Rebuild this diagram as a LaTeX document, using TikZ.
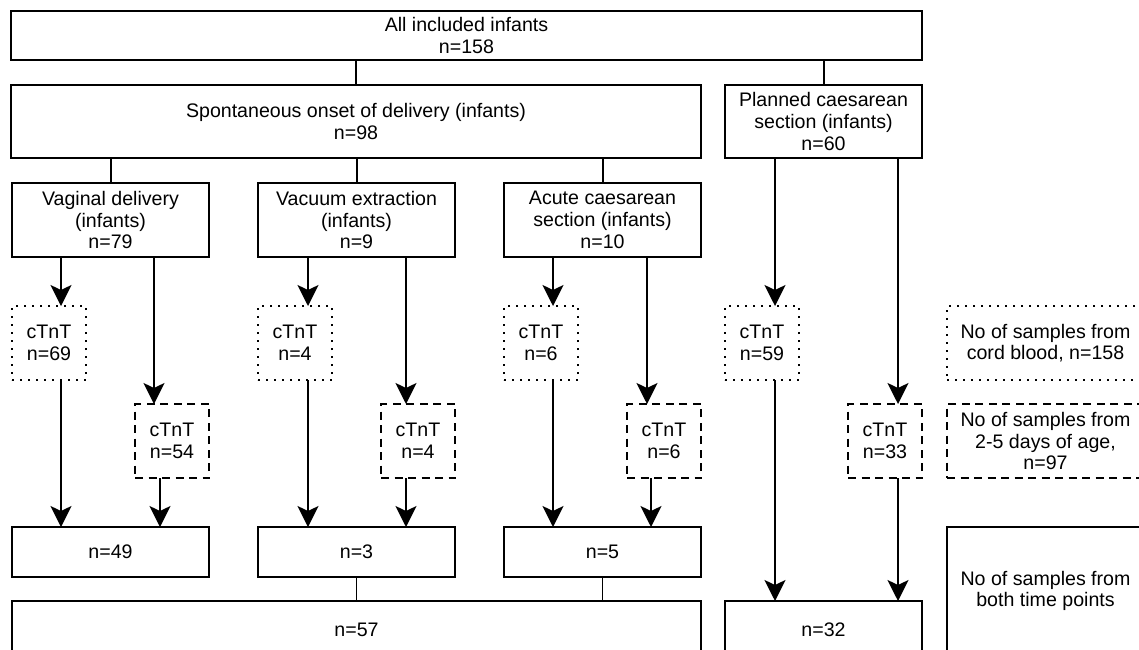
\documentclass[tikz,border=0pt]{standalone}
\usepackage{fontspec}
\setmainfont{Liberation Sans}
\usetikzlibrary{arrows.meta,calc}
\begin{document}
\begin{tikzpicture}[x=1pt,y=-1pt,
  box/.style={draw, line width=2pt, rectangle, inner sep=0pt, outer sep=0pt, align=center,
    font=\fontsize{19.6}{21.7}\selectfont},
  lowbox/.style={box, line width=1.7pt},
  dotbox/.style={box, dash pattern=on 2pt off 6pt},
  dashbox/.style={box, dash pattern=on 8pt off 5.5pt},
  ln/.style={line width=2pt},
  thinln/.style={line width=1.5pt},
  arr/.style={line width=2pt, -{Stealth[length=21pt,width=21pt,inset=5pt]}}]
\fill[white] (0,0) rectangle (1139,649);
\clip (0,0) rectangle (1139,649);

% level 1
\node[box, minimum width=911pt, minimum height=49pt] (top) at (466.5,35.5) {All included infants\\n=158};
% level 2
\node[box, minimum width=690pt, minimum height=73pt] (spont) at (356,121.5) {Spontaneous onset of delivery (infants)\\n=98};
\node[box, minimum width=197pt, minimum height=73pt] (plan) at (823.5,121.5) {Planned caesarean\\section (infants)\\n=60};
% level 3
\node[box, minimum width=197pt, minimum height=74pt] (vag) at (110.5,220) {Vaginal delivery\\(infants)\\n=79};
\node[box, minimum width=197pt, minimum height=74pt] (vac) at (356.5,220) {Vacuum extraction\\(infants)\\n=9};
\node[box, minimum width=197pt, minimum height=74pt] (acu) at (602.5,220) {Acute caesarean\\section (infants)\\n=10};
% dotted (cord blood)
\node[dotbox, minimum width=74pt, minimum height=74pt] (dvag) at (49,343) {cTnT\\n=69};
\node[dotbox, minimum width=74pt, minimum height=74pt] (dvac) at (295,343) {cTnT\\n=4};
\node[dotbox, minimum width=74pt, minimum height=74pt] (dacu) at (541,343) {cTnT\\n=6};
\node[dotbox, minimum width=74pt, minimum height=74pt] (dpl) at (762,343) {cTnT\\n=59};
% dashed (2-5 days)
\node[dashbox, minimum width=74pt, minimum height=74pt] (svag) at (172,441) {cTnT\\n=54};
\node[dashbox, minimum width=74pt, minimum height=74pt] (svac) at (418,441) {cTnT\\n=4};
\node[dashbox, minimum width=74pt, minimum height=74pt] (sacu) at (664,441) {cTnT\\n=6};
\node[dashbox, minimum width=74pt, minimum height=74pt] (spl) at (885,441) {cTnT\\n=33};
% both time points
\node[lowbox, minimum width=197pt, minimum height=50pt] (b49) at (110.5,552) {n=49};
\node[lowbox, minimum width=197pt, minimum height=50pt] (b3) at (356.5,552) {n=3};
\node[lowbox, minimum width=197pt, minimum height=50pt] (b5) at (602.5,552) {n=5};
\node[lowbox, minimum width=689pt, minimum height=58pt] (b57) at (356.5,630) {n=57};
\node[box, minimum width=197pt, minimum height=58pt] (b32) at (823.5,630) {n=32};
% legend
\node[dotbox, minimum width=197pt, minimum height=74pt] (lg1) at (1045.5,343) {No of samples from\\cord blood, n=158};
\node[dashbox, minimum width=197pt, minimum height=74pt] (lg2) at (1045.5,441) {No of samples from\\2-5 days of age,\\n=97};
\node[box, minimum width=197pt, minimum height=128pt] (lg3) at (1045.5,591) {No of samples from\\both time points};

% connectors without arrows
\draw[ln] (spont.north) -- (spont.north |- top.south);
\draw[ln] (plan.north) -- (plan.north |- top.south);
\draw[ln] (vag.north) -- (vag.north |- spont.south);
\draw[ln] (vac.north) -- (vac.north |- spont.south);
\draw[ln] (acu.north) -- (acu.north |- spont.south);
\draw[thinln] (b3.south) -- (b3.south |- b57.north);
\draw[thinln] (b5.south) -- (b5.south |- b57.north);

% vaginal
\draw[arr] ([xshift=49pt]vag.south west) -- ([xshift=49pt]dvag.north west);
\draw[arr] ([xshift=49pt]dvag.south west) -- ([xshift=49pt]b49.north west);
\draw[arr] ([xshift=142pt]vag.south west) -- ([xshift=19pt]svag.north west);
\draw[arr] ([xshift=25pt]svag.south west) -- ([xshift=148pt]b49.north west);
% vacuum
\draw[arr] ([xshift=50pt]vac.south west) -- ([xshift=50pt]dvac.north west);
\draw[arr] ([xshift=50pt]dvac.south west) -- ([xshift=50pt]b3.north west);
\draw[arr] ([xshift=148pt]vac.south west) -- ([xshift=25pt]svac.north west);
\draw[arr] ([xshift=25pt]svac.south west) -- ([xshift=148pt]b3.north west);
% acute
\draw[arr] ([xshift=49pt]acu.south west) -- ([xshift=49pt]dacu.north west);
\draw[arr] ([xshift=49pt]dacu.south west) -- ([xshift=49pt]b5.north west);
\draw[arr] ([xshift=143pt]acu.south west) -- ([xshift=20pt]sacu.north west);
\draw[arr] ([xshift=24pt]sacu.south west) -- ([xshift=147pt]b5.north west);
% planned
\draw[arr] ([xshift=50pt]plan.south west) -- ([xshift=50pt]dpl.north west);
\draw[arr] ([xshift=50pt]dpl.south west) -- ([xshift=50pt]b32.north west);
\draw[arr] ([xshift=173pt]plan.south west) -- ([xshift=50pt]spl.north west);
\draw[arr] ([xshift=50pt]spl.south west) -- ([xshift=173pt]b32.north west);
\end{tikzpicture}
\end{document}
